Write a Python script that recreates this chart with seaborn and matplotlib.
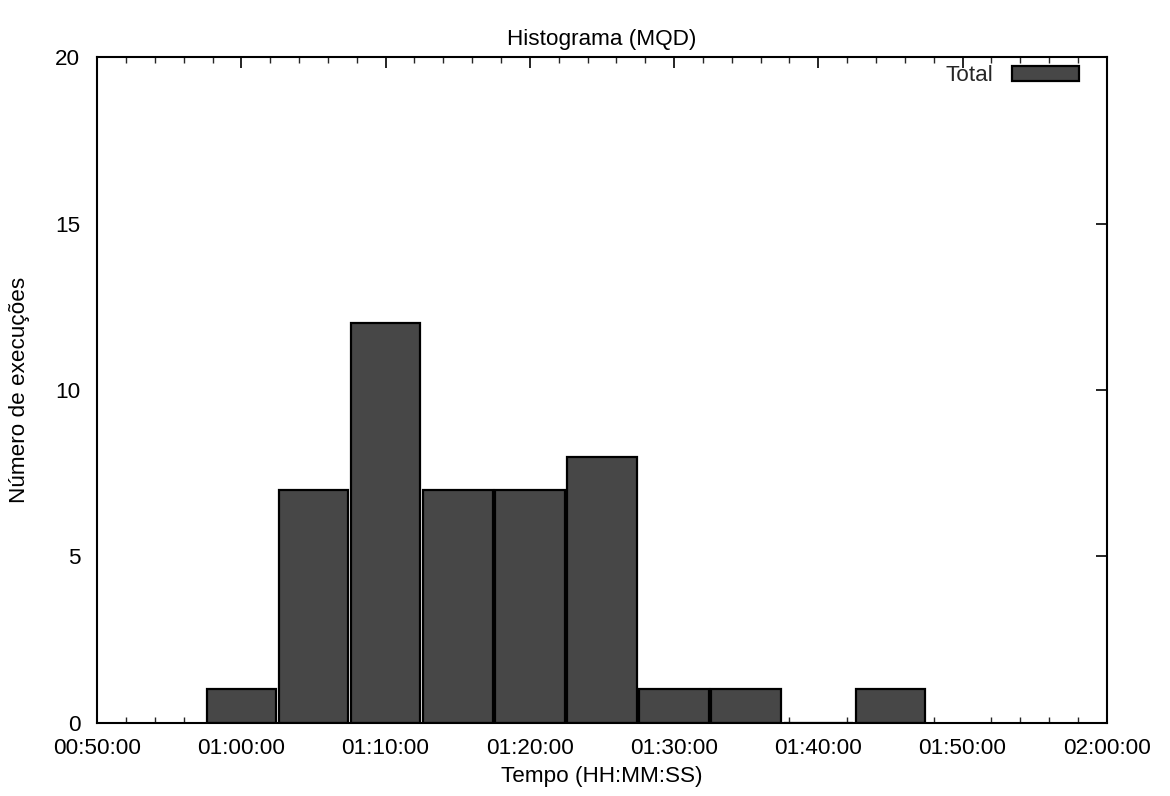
import numpy as np
import pandas as pd
import matplotlib
matplotlib.use("Agg")
import matplotlib.pyplot as plt
import matplotlib.ticker as mticker
import seaborn as sns

# Data: bin centres in minutes (time of execution), counts per bin
bin_centers_min = [60, 65, 70, 75, 80, 85, 90, 95, 100, 105]
counts = [1, 7, 12, 7, 7, 8, 1, 1, 0, 1]
bin_width_min = 5
series_label = "Total"
title = "Histograma (MQD)"
xlabel = "Tempo (HH:MM:SS)"
ylabel = "Número de execuções"

df = pd.DataFrame({"tempo": bin_centers_min, "n": counts})

sns.set_theme(style="white")
plt.rcParams['font.family'] = ['Liberation Sans', 'DejaVu Sans']
FS = 16.2
plt.rcParams['font.size'] = FS

fig = plt.figure(figsize=(11.7, 7.96), dpi=100)
ax = fig.add_axes([0.083, 0.092, 0.863, 0.836])

lo = bin_centers_min[0] - bin_width_min / 2
hi = bin_centers_min[-1] + bin_width_min / 2
sns.histplot(data=df, x="tempo", weights="n", binwidth=bin_width_min,
             binrange=(lo, hi), shrink=0.965,
             color="#474747", edgecolor="black", linewidth=1.6, alpha=1.0,
             label=series_label, ax=ax)

ax.set_xlim(50, 120)
ax.set_ylim(0, 20)

def fmt(v, pos):
    total = int(round(v * 60))
    h = total // 3600
    m = (total % 3600) // 60
    s = total % 60
    return f"{h:02d}:{m:02d}:{s:02d}"

ax.xaxis.set_major_locator(mticker.MultipleLocator(10))
ax.xaxis.set_minor_locator(mticker.MultipleLocator(2))
ax.xaxis.set_major_formatter(mticker.FuncFormatter(fmt))
ax.yaxis.set_major_locator(mticker.MultipleLocator(5))

ax.tick_params(axis="both", which="major", direction="in", length=8, width=1.2,
               top=True, right=True, labelsize=FS, colors="black")
ax.tick_params(axis="x", which="major", pad=11)
ax.tick_params(axis="y", which="major", pad=12)
ax.tick_params(axis="x", which="minor", direction="in", length=4, width=1.0,
               top=True, bottom=True)

for sp in ax.spines.values():
    sp.set_visible(True)
    sp.set_color("black")
    sp.set_linewidth(1.5)

ax.set_title(title, fontsize=FS, pad=9, color="black")
ax.set_xlabel(xlabel, fontsize=FS, labelpad=5, color="black")
ax.set_ylabel(ylabel, fontsize=FS, labelpad=18, color="black")

leg = ax.legend(loc="upper right", frameon=False, markerfirst=False,
                fontsize=FS, handlelength=3.0, handleheight=0.6,
                handletextpad=0.8, bbox_to_anchor=(0.986, 1.008),
                borderaxespad=0.2)

fig.savefig("out.png", dpi=100)
